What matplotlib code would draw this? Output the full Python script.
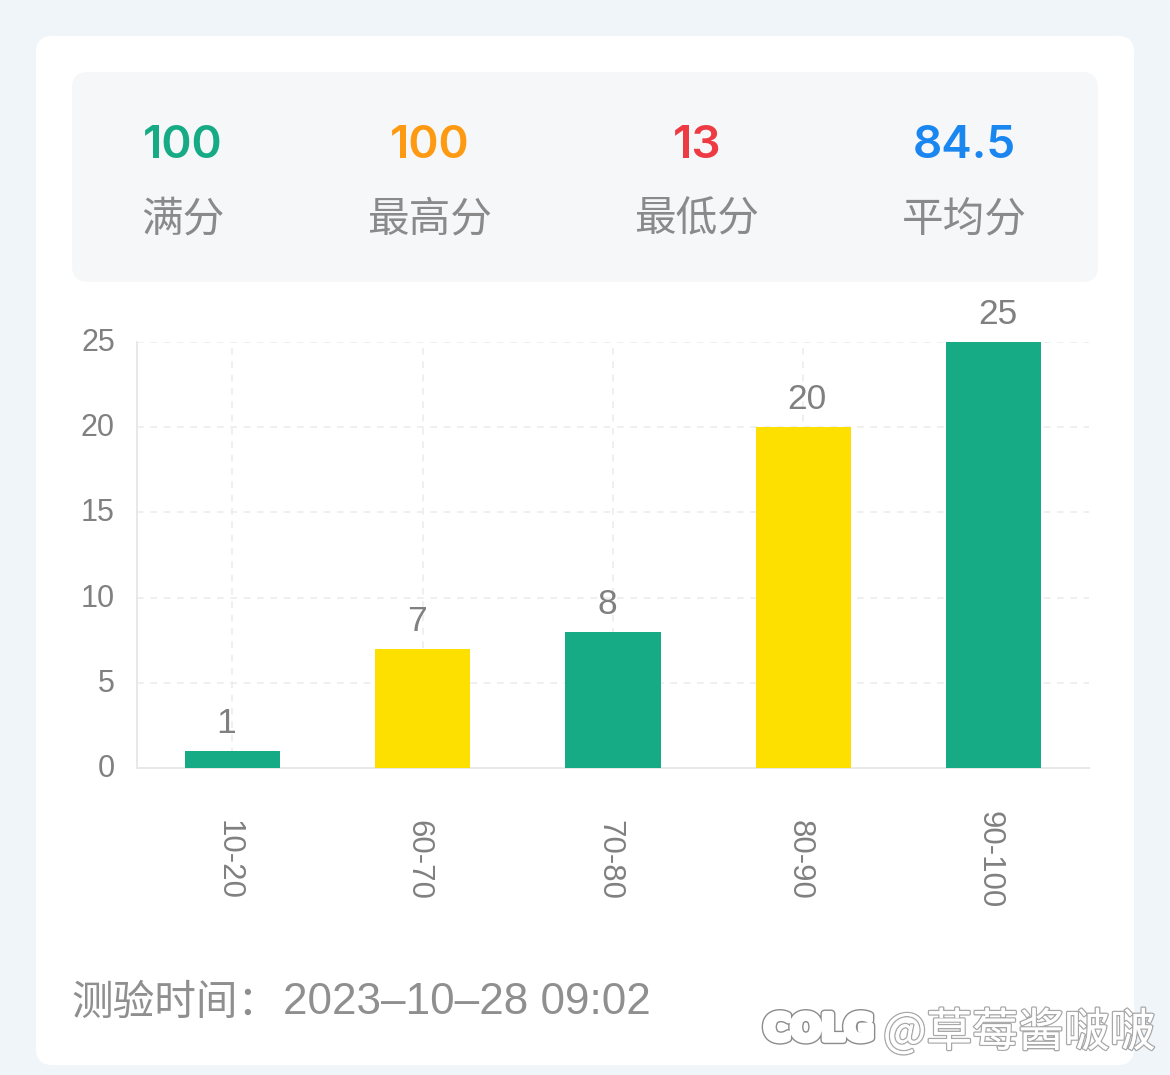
import matplotlib
matplotlib.use('Agg')
import matplotlib.pyplot as plt
import matplotlib.patheffects as pe
from matplotlib.patches import FancyBboxPatch
from matplotlib.transforms import ScaledTranslation

plt.rcParams['font.family'] = ['Noto Sans CJK SC', 'DejaVu Sans']

W, H = 1170, 1075

# chart values
categories = ['10-20', '60-70', '70-80', '80-90', '90-100']
counts = [1, 7, 8, 20, 25]
y_ticks = [0, 5, 10, 15, 20, 25]

# summary row on top
stat_values = ['100', '100', '13', '84.5']
stat_labels = ['满分', '最高分', '最低分', '平均分']
stat_colors = ['#16ab84', '#fd9a12', '#ee3b43', '#1a86f0']
stat_x = [183, 430, 697, 964]

green = '#16ab84'
yellow = '#fde000'
bar_colors = [green, yellow, green, yellow, green]
grid_color = '#ececec'
text_grey = '#808080'
latin = ['Liberation Sans', 'DejaVu Sans']

fig = plt.figure(figsize=(W / 100, H / 100), dpi=100, facecolor='#f0f5f9')

# background layer in pixel coords
bg = fig.add_axes([0, 0, 1, 1])
bg.set_xlim(0, W)
bg.set_ylim(H, 0)
bg.axis('off')


def round_box(x0, y0, x1, y1, r, color):
    box = FancyBboxPatch((x0 + r, y0 + r), x1 - x0 - 2 * r, y1 - y0 - 2 * r,
                         boxstyle='round,pad=%d,rounding_size=%d' % (r, r),
                         fc=color, ec='none')
    bg.add_patch(box)


round_box(36, 36, 1134, 1065, 16, 'white')
round_box(72, 72, 1098, 282, 16, '#f6f7f9')

for x, val, lab, col in zip(stat_x, stat_values, stat_labels, stat_colors):
    bg.text(x, 146, val, color=col, fontsize=33, fontweight='semibold',
            family=['Inter', 'DejaVu Sans'], ha='center', va='center')
    bg.text(x, 220, lab, color='#8a8a8a', fontsize=30, ha='center', va='center')

bg.text(71, 1003, '测验时间：', color='#8f8f8f', fontsize=30, ha='left', va='center')
bg.text(283, 1002, '2023\u201310\u201328 09:02', color='#8f8f8f', fontsize=31.7,
        family=latin, ha='left', va='center')

# bar chart, plot area runs 137..1089 x 342..768 px
ax = fig.add_axes([137 / W, 1 - 768 / H, (1089 - 137) / W, (768 - 342) / H])
ax.patch.set_alpha(0)
ax.set_xlim(-0.5, 4.5)
ax.set_ylim(0, 25)

x_pos = range(len(categories))
ax.bar(x_pos, counts, width=0.5, color=bar_colors, zorder=3)

ax.set_yticks(y_ticks)
ax.set_xticks(list(x_pos))
ax.set_xticklabels(categories, rotation=270, family=latin,
                   fontsize=22.5, color=text_grey, va='center', ha='center')
ax.set_yticklabels([str(v) for v in y_ticks], family=latin,
                   fontsize=22, color=text_grey, va='center')
ax.tick_params(axis='x', length=0, pad=66)
ax.tick_params(axis='y', length=0, pad=16)
ax.grid(True, color=grid_color, linestyle=(0, (4, 4)), linewidth=1.2, zorder=0)

# nudge tick labels to where the reference has them
x_shift = ScaledTranslation(-4 / 100, 0, fig.dpi_scale_trans)
for lab in ax.get_xticklabels():
    lab.set_transform(lab.get_transform() + x_shift)
y_shift = ScaledTranslation(0, -1 / 100, fig.dpi_scale_trans)
for lab in ax.get_yticklabels():
    lab.set_transform(lab.get_transform() + y_shift)

for s in ['top', 'right']:
    ax.spines[s].set_visible(False)
for s in ['left', 'bottom']:
    ax.spines[s].set_color('#e8e8e8')
    ax.spines[s].set_linewidth(1.4)

# value labels sit a bit left of the bar centre on the short bars
label_shift = [-0.03, -0.03, -0.03, 0.02, 0.02]
for i, v in enumerate(counts):
    ax.annotate(str(v), (i + label_shift[i], v), xytext=(0, 8), textcoords='offset points',
                ha='center', va='bottom', fontsize=25.5, color=text_grey,
                family=latin, zorder=4)

# watermark
bg_top = fig.add_axes([0, 0, 1, 1])
bg_top.set_xlim(0, W)
bg_top.set_ylim(H, 0)
bg_top.axis('off')
bg_top.text(764, 1030, 'COLG', color='white', fontsize=26, fontweight='bold',
            family=['DejaVu Sans'], ha='left', va='center',
            path_effects=[pe.withStroke(linewidth=6, foreground='#8c8c8c'),
                          pe.withStroke(linewidth=4, foreground='white'), pe.Normal()])
bg_top.text(883, 1033, '@草莓酱啵啵', color='white', fontsize=33, ha='left', va='center',
            family=['Noto Sans CJK SC', 'DejaVu Sans'],
            path_effects=[pe.withStroke(linewidth=2, foreground='#a8a8a8'), pe.Normal()])

fig.savefig('out.png', dpi=100, facecolor=fig.get_facecolor())
